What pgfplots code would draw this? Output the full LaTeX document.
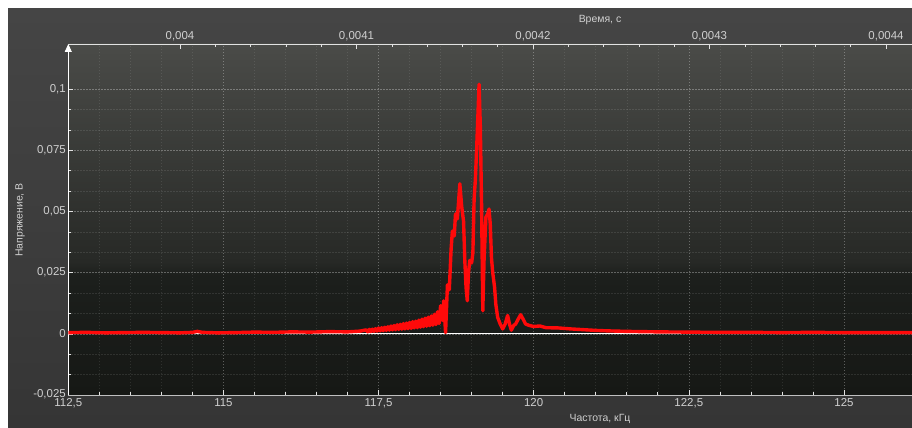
\documentclass[border=0pt]{standalone}
\usepackage{pgfplots}
\pgfplotsset{compat=1.18}
\usepackage{fontspec}
\setmainfont{Liberation Sans}
\usetikzlibrary{arrows.meta}

\definecolor{outertop}{HTML}{454545}
\definecolor{outerbot}{HTML}{353535}
\definecolor{bgtop}{HTML}{4A4B48}
\definecolor{bgmid}{HTML}{272926}
\definecolor{bgbot}{HTML}{161815}
\definecolor{bgdark}{HTML}{1C1F1C}
\definecolor{txt}{HTML}{D0D0D0}
\definecolor{axln}{HTML}{E2E2E2}
\definecolor{trace}{HTML}{FF0A0A}

\pgfdeclareverticalshading{plotbg}{100bp}{color(0bp)=(bgbot); color(25bp)=(bgbot); color(42bp)=(bgdark); color(44bp)=(bgmid); color(75bp)=(bgtop); color(100bp)=(bgtop)}
\pgfdeclareverticalshading{outerbg}{100bp}{color(0bp)=(outerbot); color(25bp)=(outerbot); color(75bp)=(outertop); color(100bp)=(outertop)}

\begin{document}
\begin{tikzpicture}
\useasboundingbox (0,0) rectangle (912bp,428bp);
\fill[white] (0,0) rectangle (912bp,428bp);
\shade[shading=outerbg] (8bp,0) rectangle (912bp,419bp);
\shade[shading=plotbg] (68.3bp,33bp) rectangle (912bp,384bp);

\begin{axis}[
  at={(68.3bp,33bp)}, anchor=south west,
  scale only axis, width=843.7bp, height=351bp,
  xmin=112.5, xmax=126.097, ymin=-0.025, ymax=0.11844,
  axis x line*=bottom, axis y line*=left,
  x axis line style={draw=axln!85!black, line width=0.8bp},
  y axis line style={draw=white, line width=0.9bp, -{Triangle[length=8bp,width=7bp]}},
  xtick={112.5,115,117.5,120,122.5,125},
  xticklabels={{112,5},{115},{117,5},{120},{122,5},{125}},
  minor x tick num=4,
  ytick={-0.025,0,0.025,0.05,0.075,0.1},
  yticklabels={{\raisebox{3bp}{-0,025}},{0},{0,025},{0,05},{0,075},{0,1}},
  minor y tick num=2,
  grid=both,
  major grid style={draw=white, opacity=0.30, dash pattern=on 1.5bp off 1.5bp, line width=0.6bp},
  minor grid style={draw=white, opacity=0.10, dash pattern=on 1.5bp off 1.5bp, line width=0.5bp},
  tick align=inside, major tick length=5bp, minor tick length=3bp,
  tick style={draw=axln, line width=0.6bp},
  ticklabel style={font=\fontsize{11.5}{12}\selectfont, text=txt},
  xticklabel style={yshift=0bp},
  yticklabel style={xshift=1bp},
  clip=true,
]
\addplot[white, line width=1.3bp] coordinates {(112.5,0) (126.2,0)};
\addplot[trace, line width=3.4bp, line join=round, mark=none] coordinates {
(112.5,0.0005) (112.8,0.0006) (113.1,0.0004) (113.4,0.0005) (113.7,0.0006)
(114.0,0.0005) (114.3,0.0004) (114.5,0.0006) (114.58,0.0010) (114.66,0.0006)
(114.9,0.0004) (115.2,0.0005) (115.5,0.0007) (115.8,0.0006) (116.1,0.0008)
(116.4,0.0007) (116.7,0.0009) (117.0,0.0008) (117.2,0.0011)
(117.300,0.0016) (117.325,0.0008) (117.350,0.0018) (117.375,0.0009)
(117.400,0.0019) (117.425,0.0010) (117.450,0.0021) (117.475,0.0011)
(117.500,0.0024) (117.525,0.0012) (117.550,0.0025) (117.575,0.0013)
(117.600,0.0027) (117.625,0.0014) (117.650,0.0029) (117.675,0.0015)
(117.700,0.0032) (117.725,0.0016) (117.750,0.0034) (117.775,0.0017)
(117.800,0.0037) (117.825,0.0018) (117.850,0.0039) (117.875,0.0019)
(117.900,0.0042) (117.925,0.0020) (117.950,0.0044) (117.975,0.0021)
(118.000,0.0047) (118.025,0.0022) (118.050,0.0050) (118.075,0.0024)
(118.100,0.0052) (118.125,0.0025) (118.150,0.0056) (118.175,0.0027)
(118.200,0.0060) (118.225,0.0029) (118.250,0.0064) (118.275,0.0031)
(118.300,0.0068) (118.325,0.0033) (118.350,0.0073) (118.375,0.0035)
(118.400,0.0080) (118.425,0.0038) (118.450,0.0090) (118.475,0.0042)
(118.500,0.0115) (118.525,0.0055) (118.550,0.0135)
(118.58,0.0005) (118.61,0.020) (118.64,0.018) (118.67,0.035) (118.69,0.042)
(118.72,0.040) (118.74,0.049) (118.77,0.047) (118.81,0.0613) (118.84,0.052)
(118.87,0.046) (118.89,0.030) (118.91,0.019) (118.93,0.0135) (118.95,0.025)
(118.97,0.030) (119.0,0.029) (119.02,0.033) (119.04,0.055) (119.06,0.063)
(119.08,0.075) (119.12,0.102) (119.14,0.085) (119.16,0.053) (119.18,0.0094)
(119.20,0.030) (119.23,0.0477) (119.26,0.049) (119.28,0.051) (119.30,0.045)
(119.32,0.031) (119.34,0.025) (119.37,0.019) (119.39,0.012) (119.42,0.0067)
(119.46,0.004) (119.5,0.002) (119.54,0.004) (119.58,0.0075) (119.61,0.004)
(119.64,0.0015) (119.68,0.0035) (119.71,0.004) (119.75,0.006) (119.79,0.0078)
(119.83,0.006) (119.87,0.004) (119.92,0.0035) (120.0,0.003) (120.1,0.0032)
(120.2,0.0025) (120.4,0.0024) (120.6,0.0020) (120.8,0.0017) (121.0,0.0014)
(121.2,0.0012) (121.5,0.0010) (122.0,0.0008) (122.5,0.0007) (123.0,0.0006)
(123.5,0.0006) (124.0,0.0005) (124.5,0.0006) (125.0,0.0005) (125.5,0.0005)
(126.1,0.0005)
};
\end{axis}

\begin{axis}[
  at={(68.3bp,33bp)}, anchor=south west,
  scale only axis, width=843.7bp, height=351bp,
  xmin=39.3671, xmax=44.1473, ymin=0, ymax=1,
  axis x line*=top, axis y line=none,
  x axis line style={draw=axln, line width=0.9bp},
  xtick={40,41,42,43,44},
  xticklabels={{0,004},{0,0041},{0,0042},{0,0043},{0,0044}},
  minor x tick num=4,
  tick align=inside, major tick length=5bp, minor tick length=3bp,
  tick style={draw=axln, line width=0.6bp},
  ticklabel style={font=\fontsize{11.5}{12}\selectfont, text=txt},
]
\addplot[draw=none] coordinates {(40,0.5)};
\end{axis}

\node[text=txt, font=\fontsize{10.5}{12}\selectfont] at (600bp,408bp) {Время, с};
\node[text=txt, font=\fontsize{10.5}{12}\selectfont] at (600bp,9bp) {Частота, кГц};
\node[text=txt, font=\fontsize{10.5}{12}\selectfont, rotate=90] at (20bp,208bp) {Напряжение, В};
\end{tikzpicture}
\end{document}
